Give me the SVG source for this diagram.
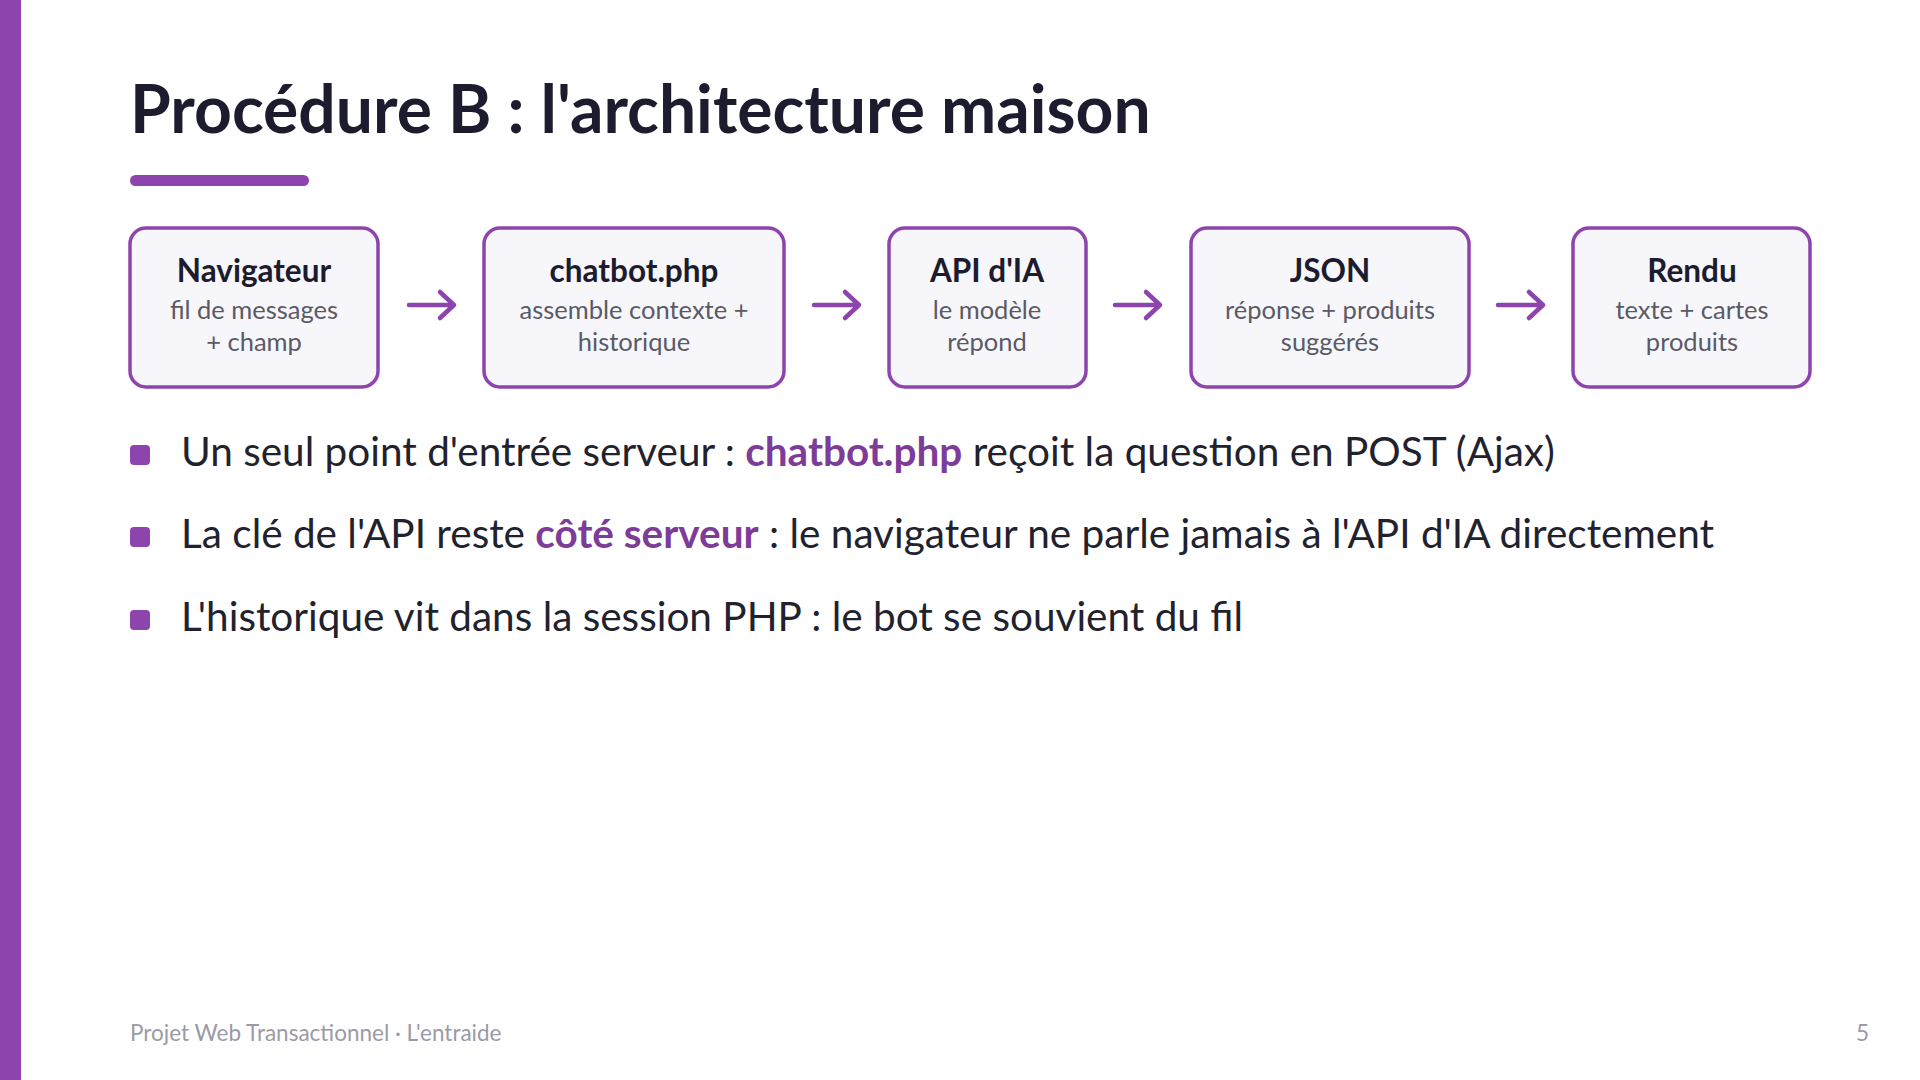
<svg xmlns="http://www.w3.org/2000/svg" width="1920" height="1080" viewBox="0 0 1920 1080">
<defs>
<style>
.t{font-family:Lato,"Noto Sans",sans-serif}
.box{fill:#f6f6fb;stroke:#8e44ad;stroke-width:3.5}
.bt{font-family:Lato,sans-serif;font-weight:bold;font-size:31.5px;fill:#1c1c2e;text-anchor:middle}
.bs{font-family:Lato,sans-serif;font-size:25.5px;fill:#5a5a66;text-anchor:middle}
.ar{stroke:#8e44ad;stroke-width:4.5;fill:none;stroke-linecap:round;stroke-linejoin:round}
.bl{font-family:Lato,sans-serif;font-size:40.5px;fill:#22222e}
.hl{font-weight:bold;fill:#7d3c98}
</style>
</defs>
<rect width="1920" height="1080" fill="#fff"/>
<rect x="0" y="0" width="21" height="1080" fill="#8e44ad"/>
<text x="130" y="133" class="t" font-size="66" font-weight="bold" fill="#1c1c2e">Procédure B : l'architecture maison</text>
<rect x="130" y="175" width="179" height="11" rx="5.5" fill="#8e44ad"/>
<g id="n1"><rect class="box" x="130" y="228" width="248" height="159" rx="16"/><text class="bt" x="254" y="282">Navigateur</text><text class="bs" x="254" y="319">fil de messages</text><text class="bs" x="254" y="351">+ champ</text></g>
<g id="n2"><rect class="box" x="484" y="228" width="300" height="159" rx="16"/><text class="bt" x="634" y="282">chatbot.php</text><text class="bs" x="634" y="319">assemble contexte +</text><text class="bs" x="634" y="351">historique</text></g>
<g id="n3"><rect class="box" x="889" y="228" width="197" height="159" rx="16"/><text class="bt" x="987" y="282">API d'IA</text><text class="bs" x="987" y="319">le modèle</text><text class="bs" x="987" y="351">répond</text></g>
<g id="n4"><rect class="box" x="1191" y="228" width="278" height="159" rx="16"/><text class="bt" x="1330" y="282">JSON</text><text class="bs" x="1330" y="319">réponse + produits</text><text class="bs" x="1330" y="351">suggérés</text></g>
<g id="n5"><rect class="box" x="1573" y="228" width="237" height="159" rx="16"/><text class="bt" x="1692" y="282">Rendu</text><text class="bs" x="1692" y="319">texte + cartes</text><text class="bs" x="1692" y="351">produits</text></g>
<g id="connectors">
<path class="ar" d="M409 305H453M440 292L454 305L440 318"/>
<path class="ar" d="M814 305H858M845 292L859 305L845 318"/>
<path class="ar" d="M1115 305H1159M1146 292L1160 305L1146 318"/>
<path class="ar" d="M1498 305H1542M1529 292L1543 305L1529 318"/>
</g>
<rect x="130" y="445" width="20" height="20" rx="4" fill="#8e44ad"/>
<text class="bl" x="181" y="466">Un seul point d'entrée serveur : <tspan class="hl">chatbot.php</tspan> reçoit la question en POST (Ajax)</text>
<rect x="130" y="527" width="20" height="20" rx="4" fill="#8e44ad"/>
<text class="bl" x="181" y="548">La clé de l'API reste <tspan class="hl">côté serveur</tspan> : le navigateur ne parle jamais à l'API d'IA directement</text>
<rect x="130" y="610" width="20" height="20" rx="4" fill="#8e44ad"/>
<text class="bl" x="181" y="631">L'historique vit dans la session PHP : le bot se souvient du fil</text>
<text class="t" x="130" y="1041" font-size="22.5" fill="#9a9aa6">Projet Web Transactionnel · L'entraide</text>
<text class="t" x="1869" y="1041" font-size="22.5" fill="#9a9aa6" text-anchor="end">5</text>
</svg>
